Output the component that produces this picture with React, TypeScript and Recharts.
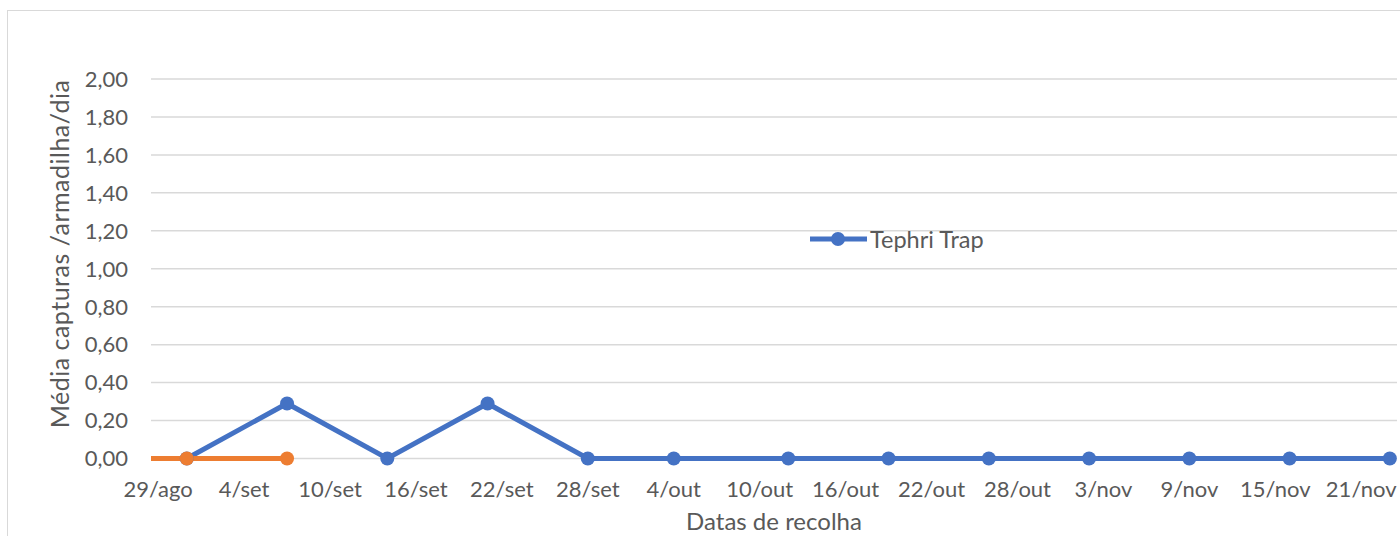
import { LineChart, Line, XAxis, YAxis, CartesianGrid, Legend } from "recharts";

// days counted from 29/ago
const TICK_DAYS = [0, 6, 12, 18, 24, 30, 36, 42, 48, 54, 60, 66, 72, 78, 84];
const TICK_LABELS = [
  "29/ago", "4/set", "10/set", "16/set", "22/set", "28/set", "4/out", "10/out",
  "16/out", "22/out", "28/out", "3/nov", "9/nov", "15/nov", "21/nov",
];
const Y_TICKS = [0, 0.2, 0.4, 0.6, 0.8, 1.0, 1.2, 1.4, 1.6, 1.8, 2.0];

const TRAP_DAYS = [2, 9, 16, 23, 30, 36, 44, 51, 58, 65, 72, 79, 86];
const TRAP_VALUES = [0, 0.29, 0, 0.29, 0, 0, 0, 0, 0, 0, 0, 0, 0];

const OTHER_DAYS = [-0.5, 2, 9];
const OTHER_VALUES = [0, 0, 0];

const BLUE = "#4472C4";
const ORANGE = "#ED7D31";
const TEXT = "#595959";
const GRID = "#D9D9D9";
const FONT = "Lato, 'Open Sans', sans-serif";

const trapData = TRAP_DAYS.map((d, i) => ({ day: d, value: TRAP_VALUES[i] }));
const otherData = OTHER_DAYS.map((d, i) => ({ day: d, value: OTHER_VALUES[i] }));

const fmtY = (v: number) => v.toFixed(2).replace(".", ",");
const fmtX = (v: number) => TICK_LABELS[TICK_DAYS.indexOf(v)] ?? "";

function LegendBox({ payload }: any) {
  const items = (payload || []).filter((p: any) => p.type !== "none");
  return (
    <div style={{ display: "flex", alignItems: "center", fontFamily: FONT, fontSize: 23.5, color: TEXT }}>
      {items.map((p: any) => (
        <div key={p.value} style={{ display: "flex", alignItems: "center" }}>
          <svg width={57} height={20}>
            <line x1={0} y1={10} x2={57} y2={10} stroke={p.color} strokeWidth={5} />
            <circle cx={28} cy={10} r={7} fill={p.color} />
          </svg>
          <span style={{ marginLeft: 3, lineHeight: "20px" }}>{p.value}</span>
        </div>
      ))}
    </div>
  );
}

function OrangeDot(props: any) {
  const { cx, cy, index } = props;
  if (index === 0) return <g key={`od-${index}`} />;
  return <circle key={`od-${index}`} cx={cx} cy={cy} r={7} fill={ORANGE} />;
}

export default function App() {
  return (
    <div
      style={{
        position: "fixed", left: 0, top: 0, width: 1400, height: 536,
        overflow: "hidden", background: "#fff",
      }}
    >
      <div
        style={{
          position: "absolute", left: 7, top: 10, width: 1500, height: 700,
          border: "1.5px solid " + GRID, boxSizing: "border-box",
        }}
      />
      <LineChart
        width={1400}
        height={536}
        margin={{ top: 79, right: 3, left: 0, bottom: 47.5 }}
        style={{ position: "absolute", left: 0, top: 0 }}
      >
        <CartesianGrid horizontal vertical={false} stroke={GRID} strokeWidth={1.5} />
        <XAxis
          type="number"
          dataKey="day"
          domain={[-0.5, 86.5]}
          ticks={TICK_DAYS}
          tickFormatter={fmtX}
          interval={0}
          axisLine={false}
          tickLine={false}
          tickSize={0}
          tickMargin={23}
          height={30}
          tick={{ fill: TEXT, fontSize: 22, fontFamily: FONT }}
          label={({ viewBox }: any) => (
            <text
              x={viewBox.x + viewBox.width / 2}
              y={530}
              textAnchor="middle"
              fill={TEXT}
              fontSize={24}
              fontFamily={FONT}
            >
              Datas de recolha
            </text>
          )}
        />
        <YAxis
          type="number"
          domain={[0, 2]}
          ticks={Y_TICKS}
          tickFormatter={fmtY}
          axisLine={false}
          tickLine={false}
          tickSize={0}
          tickMargin={23}
          width={151}
          tick={{ fill: TEXT, fontSize: 22, fontFamily: FONT }}
          label={() => (
            <text
              x={59}
              y={254}
              transform="rotate(-90, 59, 254)"
              textAnchor="middle"
              dominantBaseline="central"
              fill={TEXT}
              fontSize={25}
              letterSpacing={0.5}
              fontFamily={FONT}
            >
              Média capturas /armadilha/dia
            </text>
          )}
        />
        <Legend
          layout="horizontal"
          verticalAlign="middle"
          align="center"
          content={<LegendBox />}
          wrapperStyle={{ left: 810, top: 229, width: "auto", height: "auto" }}
        />
        <Line
          data={trapData}
          dataKey="value"
          name="Tephri Trap"
          type="linear"
          stroke={BLUE}
          strokeWidth={5}
          dot={{ r: 7, fill: BLUE, stroke: BLUE, strokeWidth: 0 }}
          activeDot={false}
          isAnimationActive={false}
        />
        <Line
          data={otherData}
          dataKey="value"
          name="outro"
          legendType="none"
          type="linear"
          stroke={ORANGE}
          strokeWidth={5}
          dot={<OrangeDot />}
          activeDot={false}
          isAnimationActive={false}
        />
      </LineChart>
    </div>
  );
}
